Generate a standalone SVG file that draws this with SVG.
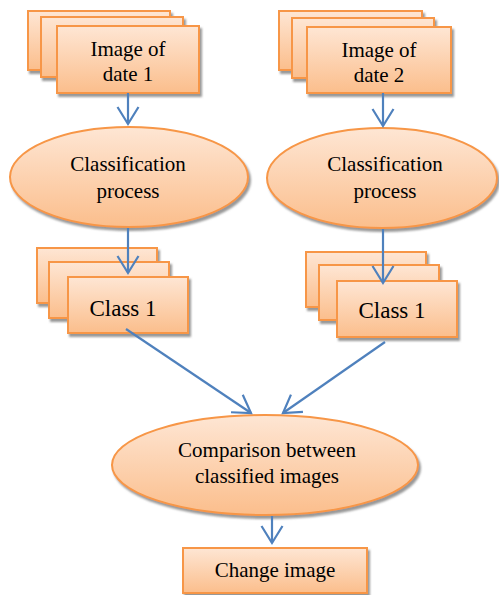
<svg xmlns="http://www.w3.org/2000/svg" width="499" height="595" viewBox="0 0 499 595">
<defs>
<linearGradient id="g" x1="0" y1="0" x2="0" y2="1">
<stop offset="0" stop-color="#fee6d4"/>
<stop offset="1" stop-color="#fbbe8c"/>
</linearGradient>
<filter id="sh" x="-10%" y="-10%" width="125%" height="130%">
<feDropShadow dx="2" dy="3" stdDeviation="0.8" flood-color="#7f7f7f" flood-opacity="0.8"/>
</filter>
<marker id="ah" markerUnits="userSpaceOnUse" markerWidth="24" markerHeight="26" viewBox="-19 -13 22 26" refX="0" refY="0" orient="auto">
<path d="M-17,-10.5 L0,0 L-17,10.5" fill="none" stroke="#4f81bd" stroke-width="2.2"/>
</marker>
</defs>
<style>
.b{fill:url(#g);stroke:#f79646;stroke-width:2;filter:url(#sh)}
.a{stroke:#4f81bd;stroke-width:2.2;fill:none;marker-end:url(#ah)}
</style>
<g id="image1">
<rect class="b" x="28" y="11" width="142" height="59"/>
<rect class="b" x="41" y="17" width="142" height="60"/>
<rect class="b" x="57" y="26" width="142" height="67"/>
<text x="128" y="56" font-family="Liberation Serif" font-size="21" text-anchor="middle">Image of</text>
<text x="128" y="81" font-family="Liberation Serif" font-size="21" text-anchor="middle">date 1</text>
</g>
<g id="image2">
<rect class="b" x="279" y="11" width="143" height="59"/>
<rect class="b" x="292" y="18" width="142" height="60"/>
<rect class="b" x="307" y="27" width="144" height="66"/>
<text x="379" y="57" font-family="Liberation Serif" font-size="21" text-anchor="middle">Image of</text>
<text x="379" y="82" font-family="Liberation Serif" font-size="21" text-anchor="middle">date 2</text>
</g>
<g id="classify1">
<ellipse class="b" cx="129" cy="177" rx="119" ry="50"/>
<text x="128" y="171" font-family="Liberation Serif" font-size="21" text-anchor="middle">Classification</text>
<text x="128" y="198" font-family="Liberation Serif" font-size="21" text-anchor="middle">process</text>
</g>
<g id="classify2">
<ellipse class="b" cx="382" cy="178" rx="115" ry="50"/>
<text x="385" y="171" font-family="Liberation Serif" font-size="21" text-anchor="middle">Classification</text>
<text x="385" y="198" font-family="Liberation Serif" font-size="21" text-anchor="middle">process</text>
</g>
<g id="class1a">
<rect class="b" x="37" y="248" width="120" height="55"/>
<rect class="b" x="49" y="262" width="120" height="56"/>
<rect class="b" x="68" y="277" width="120" height="56"/>
<text x="123" y="316" font-family="Liberation Serif" font-size="23" text-anchor="middle">Class 1</text>
</g>
<g id="class1b">
<rect class="b" x="306" y="252" width="120" height="55"/>
<rect class="b" x="319" y="265" width="120" height="55"/>
<rect class="b" x="337" y="281" width="120" height="56"/>
<text x="392" y="318" font-family="Liberation Serif" font-size="23" text-anchor="middle">Class 1</text>
</g>
<g id="comparison">
<ellipse class="b" cx="265" cy="465" rx="153" ry="50"/>
<text x="267" y="457" font-family="Liberation Serif" font-size="21" text-anchor="middle">Comparison between</text>
<text x="267" y="483" font-family="Liberation Serif" font-size="21" text-anchor="middle">classified images</text>
</g>
<g id="change">
<rect class="b" x="183" y="548" width="184" height="45"/>
<text x="275" y="577" font-family="Liberation Serif" font-size="21" text-anchor="middle">Change image</text>
</g>
<g id="connectors">
<line class="a" x1="128" y1="93" x2="128" y2="124"/>
<line class="a" x1="383" y1="93" x2="383" y2="126"/>
<line class="a" x1="128" y1="228" x2="128" y2="273"/>
<line class="a" x1="383" y1="229" x2="383" y2="283"/>
<line class="a" x1="126" y1="329" x2="251" y2="413"/>
<line class="a" x1="385" y1="342" x2="283" y2="413"/>
<line class="a" x1="272" y1="516" x2="272" y2="543"/>
</g>
</svg>
